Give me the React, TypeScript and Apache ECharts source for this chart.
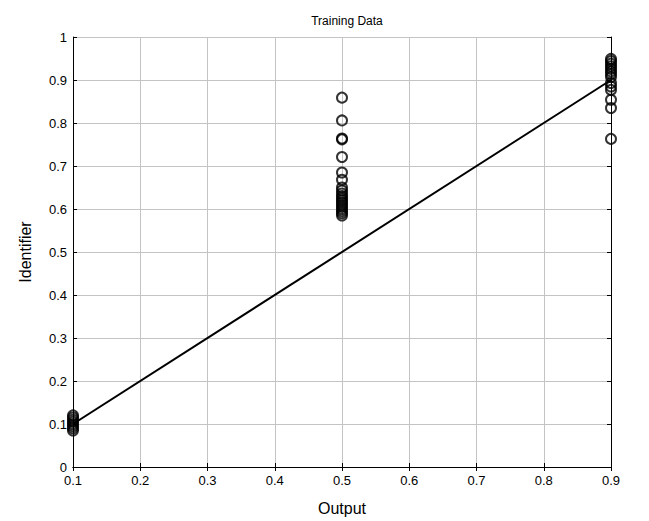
import React, { useEffect, useRef } from "react";
import * as echarts from "echarts";

const xTicks = [0.1, 0.2, 0.3, 0.4, 0.5, 0.6, 0.7, 0.8, 0.9];
const yTicks = [0, 0.1, 0.2, 0.3, 0.4, 0.5, 0.6, 0.7, 0.8, 0.9, 1];

const outputLow = [0.1, 0.1, 0.1, 0.1, 0.1, 0.1, 0.1, 0.1];
const identLow = [0.085, 0.09, 0.095, 0.1, 0.105, 0.11, 0.115, 0.12];

const outputMid = [0.5, 0.5, 0.5, 0.5, 0.5, 0.5, 0.5, 0.5, 0.5, 0.5, 0.5, 0.5, 0.5, 0.5, 0.5, 0.5, 0.5, 0.5, 0.5, 0.5];
const identMid = [0.859, 0.806, 0.764, 0.762, 0.721, 0.685, 0.668, 0.65, 0.643, 0.636, 0.63, 0.625, 0.62, 0.615, 0.61, 0.605, 0.6, 0.595, 0.59, 0.585];

const outputHigh = [0.9, 0.9, 0.9, 0.9, 0.9, 0.9, 0.9, 0.9, 0.9, 0.9, 0.9, 0.9, 0.9, 0.9];
const identHigh = [0.949, 0.944, 0.938, 0.932, 0.926, 0.92, 0.914, 0.907, 0.893, 0.885, 0.877, 0.854, 0.835, 0.763];

const fitX = [0.1, 0.9];
const fitY = [0.1, 0.9];

const FONT = "Liberation Sans, Arial, sans-serif";

export default function App() {
  const ref = useRef<HTMLDivElement>(null);
  useEffect(() => {
    if (!ref.current) return;
    const chart = echarts.init(ref.current, null, { renderer: "svg" });
    const pts = [
      ...outputLow.map((x, i) => [x, identLow[i]]),
      ...outputMid.map((x, i) => [x, identMid[i]]),
      ...outputHigh.map((x, i) => [x, identHigh[i]]),
    ];
    const fmt = (v: number) => String(+v.toFixed(1));
    const common = {
      axisLine: { show: true, lineStyle: { color: "#000", width: 1 } },
      axisTick: { show: true, inside: true, length: 4, lineStyle: { color: "#000" } },
    };
    chart.setOption({
      animation: false,
      backgroundColor: "#fff",
      title: {
        text: "Training Data",
        left: 342,
        textAlign: "center",
        top: 10,
        textStyle: { fontFamily: FONT, fontSize: 12, fontWeight: "normal", color: "#000" },
      },
      grid: { left: 73, right: 38, top: 37, bottom: 53 },
      xAxis: [
        {
          type: "value",
          min: xTicks[0],
          max: xTicks[xTicks.length - 1],
          interval: 0.1,
          ...common,
          axisLabel: { fontFamily: FONT, fontSize: 13, color: "#000", margin: 7, formatter: fmt },
          splitLine: { show: true, lineStyle: { color: "#c4c4c4", width: 1 } },
          name: "Output",
          nameLocation: "middle",
          nameGap: 33,
          nameTextStyle: { fontFamily: FONT, fontSize: 16, color: "#000" },
        },
        {
          type: "value",
          position: "top",
          min: xTicks[0],
          max: xTicks[xTicks.length - 1],
          interval: 0.1,
          ...common,
          axisLabel: { show: false },
          splitLine: { show: false },
        },
      ],
      yAxis: [
        {
          type: "value",
          min: yTicks[0],
          max: yTicks[yTicks.length - 1],
          interval: 0.1,
          ...common,
          axisLabel: { fontFamily: FONT, fontSize: 13, color: "#000", margin: 6, formatter: fmt },
          splitLine: { show: true, lineStyle: { color: "#c4c4c4", width: 1 } },
          name: "Identifier",
          nameLocation: "middle",
          nameGap: 40,
          nameTextStyle: { fontFamily: FONT, fontSize: 16, color: "#000" },
        },
        {
          type: "value",
          position: "right",
          min: yTicks[0],
          max: yTicks[yTicks.length - 1],
          interval: 0.1,
          ...common,
          axisLabel: { show: false },
          splitLine: { show: false },
        },
      ],
      series: [
        {
          type: "line",
          data: fitX.map((x, i) => [x, fitY[i]]),
          showSymbol: false,
          lineStyle: { color: "#000", width: 2 },
          z: 3,
        },
        {
          type: "scatter",
          data: pts,
          symbol: "circle",
          symbolSize: 10,
          itemStyle: { color: "rgba(0,0,0,0)", borderColor: "#000", borderWidth: 2 },
          z: 4,
        },
      ],
    });
    return () => chart.dispose();
  }, []);
  return (
    <div
      ref={ref}
      style={{ position: "fixed", left: 0, top: 0, width: 649, height: 521, overflow: "hidden" }}
    />
  );
}
